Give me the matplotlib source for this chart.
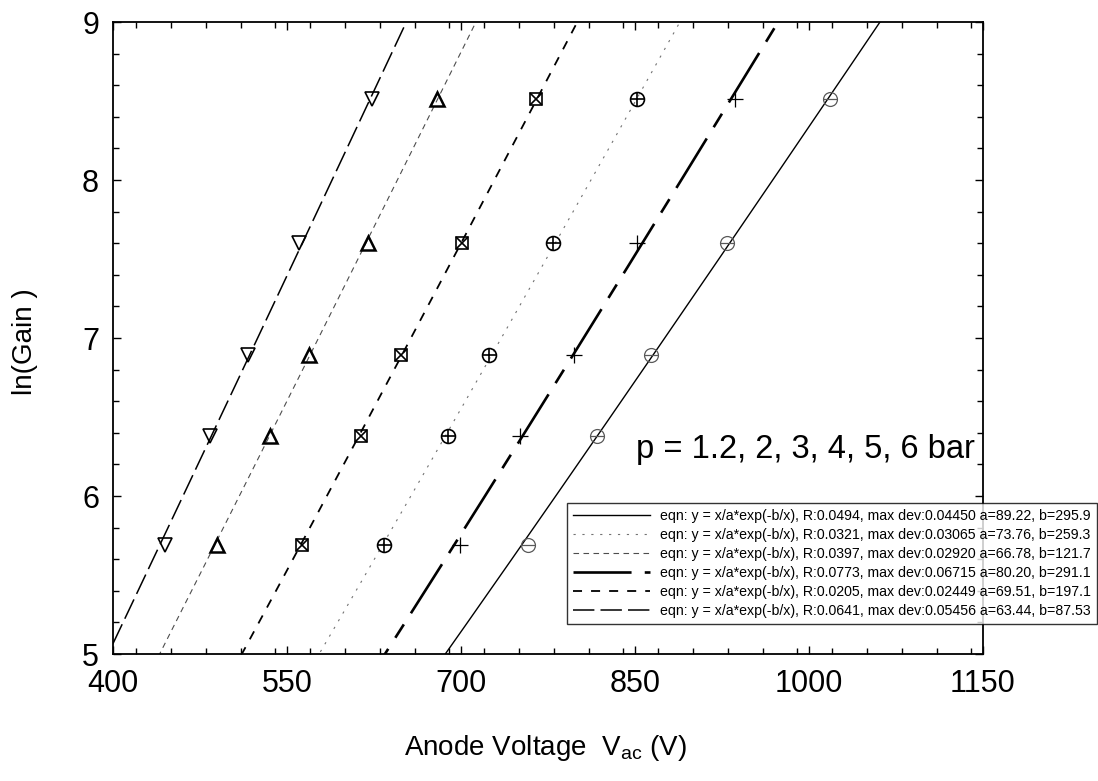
import numpy as np
import matplotlib
matplotlib.use("Agg")
import matplotlib.pyplot as plt
from matplotlib.ticker import MultipleLocator

plt.rcParams['font.family'] = ['Liberation Sans', 'DejaVu Sans']

# ---- data ----
ln_gain = [5.69, 6.38, 6.89, 7.60, 8.51]
v_inv_tri = [445, 484, 516, 560, 623]     # p = 1.2 bar
v_tri     = [490, 535, 569, 620, 679]     # p = 2 bar
v_boxx    = [563, 614, 648, 701, 765]     # p = 3 bar
v_oplus   = [634, 689, 724, 779, 852]     # p = 4 bar
v_plus    = [699, 751, 797, 852, 936]     # p = 5 bar
v_ominus  = [758, 817, 864, 929, 1018]    # p = 6 bar

# fit parameters (legend order)
fit_R      = ["0.0494", "0.0321", "0.0397", "0.0773", "0.0205", "0.0641"]
fit_maxdev = ["0.04450", "0.03065", "0.02920", "0.06715", "0.02449", "0.05456"]
fit_a      = [89.22, 73.76, 66.78, 80.20, 69.51, 63.44]
fit_b      = [295.9, 259.3, 121.7, 291.1, 197.1, 87.53]
fit_a_txt  = ["89.22", "73.76", "66.78", "80.20", "69.51", "63.44"]
fit_b_txt  = ["295.9", "259.3", "121.7", "291.1", "197.1", "87.53"]

x_ticks = [400, 550, 700, 850, 1000, 1150]
y_ticks = [5, 6, 7, 8, 9]

fig = plt.figure(figsize=(10.98, 7.81), dpi=100)
ax = fig.add_axes([113/1098, 1-654/781, 870/1098, 632/781])

# fitted lines (legend order): ominus, oplus, tri, plus, boxx, inv_tri
styles = [
    dict(color='black', lw=1.0, ls='-'),
    dict(color='0.45', lw=0.8, ls=(0, (2, 6))),
    dict(color='0.3', lw=0.8, ls=(0, (5, 4))),
    dict(color='black', lw=1.9, ls=(0, (22, 5, 6, 5))),
    dict(color='black', lw=1.3, ls=(0, (5, 5))),
    dict(color='black', lw=1.1, ls=(0, (14, 4))),
]
xx = np.linspace(400, 1150, 600)
for a, b, R, md, at, bt, st in zip(fit_a, fit_b, fit_R, fit_maxdev, fit_a_txt, fit_b_txt, styles):
    yy = xx / a * np.exp(-b / xx)
    lab = f"eqn: y = x/a*exp(-b/x), R:{R}, max dev:{md} a={at}, b={bt}"
    ax.plot(xx, yy, label=lab, **st)

ms = 10
mk = dict(ls='none', mfc='none', mec='black', mew=1.2)
ax.plot(v_inv_tri, ln_gain, marker='v', ms=ms, **mk)
ax.plot(v_tri, ln_gain, marker='^', ms=ms, mew=1.8, ls='none', mfc='none', mec='black')
ax.plot(v_boxx, ln_gain, marker='s', ms=9, **mk)
ax.plot(v_boxx, ln_gain, marker='x', ms=8, **mk)
ax.plot(v_oplus, ln_gain, marker='o', ms=ms, **mk)
ax.plot(v_oplus, ln_gain, marker='+', ms=ms, **mk)
ax.plot(v_plus, ln_gain, marker='+', ms=12, ls='none', mec='black', mew=0.9)
ax.plot(v_ominus, ln_gain, marker='o', ms=ms, ls='none', mfc='none', mec='0.35', mew=0.9)
ax.plot(v_ominus, ln_gain, marker='_', ms=ms, ls='none', mec='0.35', mew=0.9)

ax.set_xlim(400, 1150)
ax.set_ylim(5, 9)
ax.set_xticks(x_ticks)
ax.set_yticks(y_ticks)
ax.xaxis.set_minor_locator(MultipleLocator(30))
ax.yaxis.set_minor_locator(MultipleLocator(0.2))
ax.tick_params(which='both', direction='in', top=True, right=True, width=1.0)
ax.tick_params(which='major', length=6, labelsize=22)
ax.tick_params(which='minor', length=4)
ax.tick_params(axis='x', which='major', pad=11)
ax.tick_params(axis='y', which='major', pad=10)
for s in ax.spines.values():
    s.set_linewidth(1.3)

ax.text(0.991, 0.323, "p = 1.2, 2, 3, 4, 5, 6 bar", transform=ax.transAxes,
        ha='right', va='center', fontsize=23.5)

fig.text(25/1098, 1-342/781, "ln(Gain )", rotation=90, ha='center', va='center', fontsize=20)
fig.text(545/1098, 1-748/781, r"Anode Voltage  V$_{\mathregular{ac}}$ (V)",
         ha='center', va='center', fontsize=20)

leg = ax.legend(loc='upper right', bbox_to_anchor=(1097/1098, 1-503/781),
                bbox_transform=fig.transFigure, fontsize=10.2, frameon=True,
                fancybox=False, edgecolor='black', handlelength=5.5,
                labelspacing=0.36, borderpad=0.4, handletextpad=0.7,
                borderaxespad=0)
leg.get_frame().set_linewidth(1.0)
leg.set_zorder(5)

fig.savefig("out.png", dpi=100)
